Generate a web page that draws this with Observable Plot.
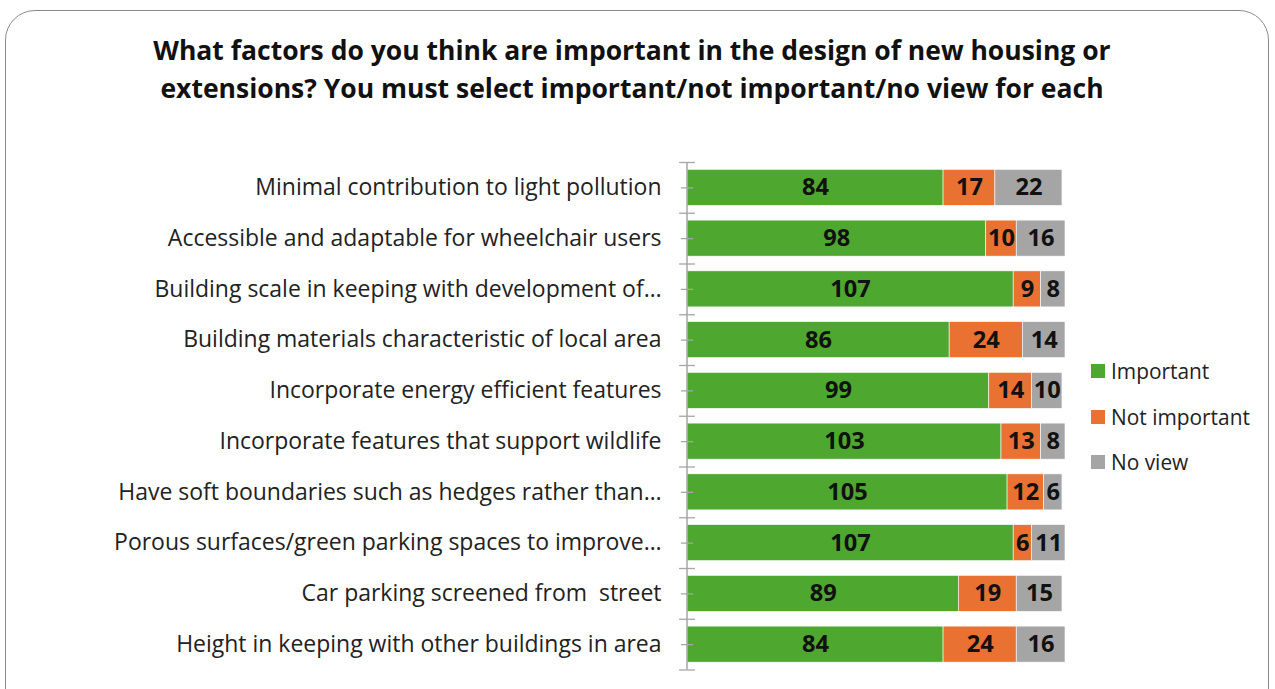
<!DOCTYPE html>
<html><head><meta charset="utf-8">
<script src="https://cdn.jsdelivr.net/npm/d3@7"></script>
<script src="https://cdn.jsdelivr.net/npm/@observablehq/plot@0.6"></script>
<style>
html,body{margin:0;padding:0;background:#fff;width:1275px;height:689px;overflow:hidden;font-family:"Open Sans",sans-serif;}
#frame{position:absolute;left:5px;top:10px;width:1264px;height:720px;border:1.3px solid #8a8a8a;border-radius:30px;box-sizing:border-box;}
#title{position:absolute;left:0;top:31px;width:1264px;text-align:center;font-weight:bold;line-height:38px;color:#111;white-space:nowrap;}
#chart{position:absolute;left:0;top:0;}
#legend{position:absolute;left:1091px;top:348px;color:#222;white-space:nowrap;}
#legend div{height:45.7px;display:flex;align-items:center;}
#legend span.sw{display:inline-block;width:14px;height:14px;margin-right:6px;}
</style></head>
<body>
<div id="frame"></div>
<div id="title">What factors do you think are important in the design of new housing or<br>extensions? You must select important/not important/no view for each</div>
<div id="chart"></div>
<div id="legend"></div>
<script>
const categories = [
  "Minimal contribution to light pollution",
  "Accessible and adaptable for wheelchair users",
  "Building scale in keeping with development of…",
  "Building materials characteristic of local area",
  "Incorporate energy efficient features",
  "Incorporate features that support wildlife",
  "Have soft boundaries such as hedges rather than…",
  "Porous surfaces/green parking spaces to improve…",
  "Car parking screened from  street",
  "Height in keeping with other buildings in area"
];
const seriesNames = ["Important", "Not important", "No view"];
const important    = [84, 98, 107, 86, 99, 103, 105, 107, 89, 84];
const notImportant = [17, 10, 9, 24, 14, 13, 12, 6, 19, 24];
const noView       = [22, 16, 8, 14, 10, 8, 6, 11, 15, 16];
const colors = ["#4EA72E", "#E97132", "#A5A5A5"];

const seriesValues = [important, notImportant, noView];
const data = [];
categories.forEach((c, i) => {
  seriesNames.forEach((s, j) => data.push({cat: c, series: s, value: seriesValues[j][i]}));
});

// fit font sizes to the reference text widths
const FAMILY = "'Open Sans'";
const ctx = document.createElement("canvas").getContext("2d");
function fit(text, weight, target) {
  ctx.font = `${weight} 100px ${FAMILY}`;
  return 100 * target / ctx.measureText(text).width;
}
const labelSize = (fit(categories[0], "normal", 414) + fit(categories[7], "normal", 532) + fit(categories[9], "normal", 490)) / 3;
const titleSize = fit("What factors do you think are important in the design of new housing or", "bold", 958);
const legendSize = fit("Not important", "normal", 139);
const valueSize = fit("84", "bold", 27);

document.getElementById("title").style.fontSize = titleSize + "px";
document.getElementById("legend").style.fontSize = legendSize + "px";

const W = 1275, H = 689, mTop = 162, mBottom = 19.5, mLeft = 687, mRight = 210;
const step = (H - mTop - mBottom) / categories.length;

const plot = Plot.plot({
  width: W, height: H,
  marginTop: mTop, marginBottom: mBottom, marginLeft: mLeft, marginRight: mRight,
  style: {fontFamily: "'Open Sans', sans-serif", background: "transparent", overflow: "visible"},
  x: {domain: [0, 124], axis: null},
  y: {domain: categories, paddingInner: 0.29, paddingOuter: 0.145, round: false, label: null},
  color: {domain: seriesNames, range: colors},
  marks: [
    Plot.barX(data, Plot.stackX({x: "value", y: "cat", fill: "series", order: seriesNames, stroke: "white", strokeWidth: 0.6})),
    Plot.text(data, Plot.stackX({x: "value", y: "cat", z: "series", order: seriesNames, text: d => String(d.value), fontSize: valueSize, fontWeight: "bold", fill: "#111"})),
    Plot.ruleX([0], {stroke: "#a6a6a6", strokeWidth: 1.5, dx: -0.5}),
    Plot.ruleY(categories, {y: d => d, x1: -2, x2: 2, stroke: "#a6a6a6", strokeWidth: 1.3}),
    Plot.ruleY(categories, {y: d => d, x1: -2.6, x2: 2.6, dy: -step / 2, stroke: "#a6a6a6", strokeWidth: 1.3}),
    Plot.ruleY(categories.slice(-1), {y: d => d, x1: -2.6, x2: 2.6, dy: step / 2, stroke: "#a6a6a6", strokeWidth: 1.3}),
    Plot.axisY({tickSize: 0, tickPadding: 26, fontSize: labelSize, fill: "#222", label: null})
  ]
});
document.getElementById("chart").appendChild(plot);

const leg = document.getElementById("legend");
seriesNames.forEach((s, i) => {
  const d = document.createElement("div");
  d.innerHTML = `<span class="sw" style="background:${colors[i]}"></span>${s}`;
  leg.appendChild(d);
});
</script>
</body></html>
